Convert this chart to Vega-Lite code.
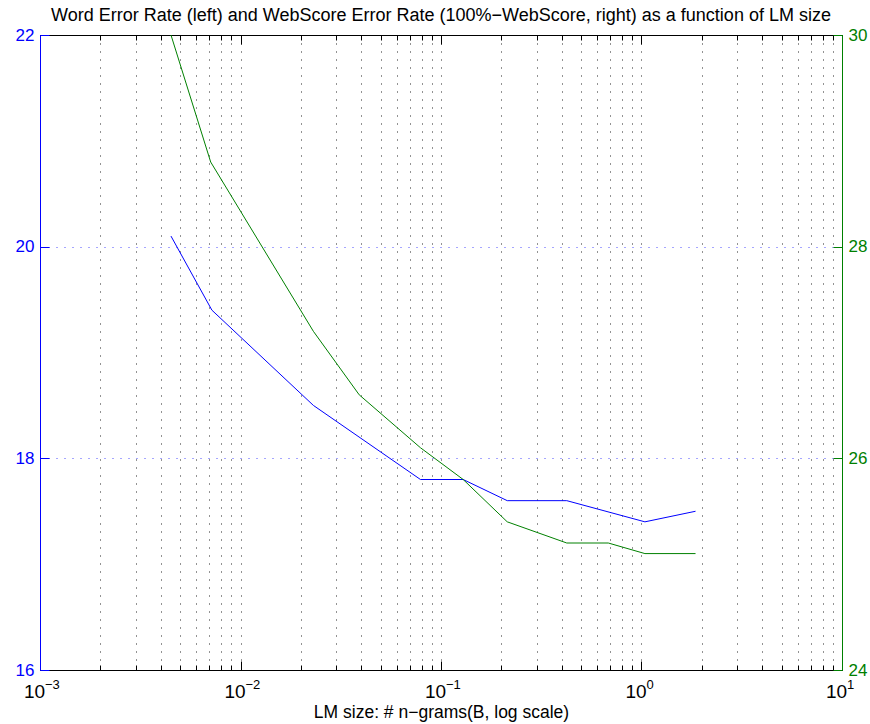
{
  "$schema": "https://vega.github.io/schema/vega-lite/v6.json",
  "width": 802,
  "height": 635,
  "autosize": {"type": "none"},
  "padding": {"left": 40, "top": 35, "right": 28, "bottom": 54},
  "background": "white",
  "title": {
    "text": "Word Error Rate (left) and WebScore Error Rate (100%−WebScore, right) as a function of LM size",
    "font": "Liberation Sans",
    "fontSize": 18,
    "fontWeight": "normal",
    "color": "black",
    "anchor": "middle",
    "offset": 1
  },
  "config": {
    "view": {"stroke": "black", "strokeWidth": 1},
    "axis": {"labelFont": "Liberation Sans", "titleFont": "Liberation Sans", "titleFontWeight": "normal"}
  },
  "datasets": {
    "wer": [
      {"size": 0.0045, "rate": 20.1},
      {"size": 0.0072, "rate": 19.4},
      {"size": 0.0231, "rate": 18.5},
      {"size": 0.079, "rate": 17.8},
      {"size": 0.129, "rate": 17.8},
      {"size": 0.214, "rate": 17.6},
      {"size": 0.424, "rate": 17.6},
      {"size": 1.04, "rate": 17.4},
      {"size": 1.86, "rate": 17.5}
    ],
    "web": [
      {"size": 0.0045, "rate": 30.0},
      {"size": 0.0071, "rate": 28.8},
      {"size": 0.0231, "rate": 27.2},
      {"size": 0.0391, "rate": 26.6},
      {"size": 0.079, "rate": 26.1},
      {"size": 0.129, "rate": 25.8},
      {"size": 0.214, "rate": 25.4},
      {"size": 0.424, "rate": 25.2},
      {"size": 0.683, "rate": 25.2},
      {"size": 1.04, "rate": 25.1},
      {"size": 1.86, "rate": 25.1}
    ],
    "expo": [
      {"size": 0.001, "e": "−3"},
      {"size": 0.01, "e": "−2"},
      {"size": 0.1, "e": "−1"},
      {"size": 1, "e": "0"},
      {"size": 10, "e": "1"}
    ]
  },
  "layer": [
    {
      "data": {"name": "wer"},
      "mark": {"type": "line", "color": "#0000ff", "strokeWidth": 1, "clip": true},
      "encoding": {
        "x": {
          "field": "size", "type": "quantitative",
          "scale": {"type": "log", "domain": [0.001, 10], "nice": false},
          "axis": {
            "orient": "bottom",
            "title": "LM size: # n−grams(B, log scale)",
            "titleFontSize": 17.5,
            "titleColor": "black",
            "titlePadding": -2,
            "values": [0.001,0.002,0.003,0.004,0.005,0.006,0.007,0.008,0.009,0.01,0.02,0.03,0.04,0.05,0.06,0.07,0.08,0.09,0.1,0.2,0.3,0.4,0.5,0.6,0.7,0.8,0.9,1,2,3,4,5,6,7,8,9,10],
            "labelExpr": "indexof([0.001,0.01,0.1,1,10], datum.value) >= 0 ? '10' : ''",
            "labelFontSize": 19,
            "labelColor": "black",
            "labelPadding": 21,
            "labelOffset": -6,
            "labelOverlap": false,
            "labelFlush": false,
            "domainColor": "black",
            "tickColor": "black",
            "tickSize": {"condition": {"test": "indexof([0.001,0.01,0.1,1,10], datum.value) >= 0", "value": -9}, "value": -5},
            "grid": true,
            "gridColor": "black",
            "gridDash": [1, 7],
            "gridOpacity": {"condition": {"test": "datum.value == 0.001 || datum.value == 10", "value": 0}, "value": 0.85}
          }
        },
        "y": {
          "field": "rate", "type": "quantitative",
          "scale": {"domain": [16, 22], "nice": false, "zero": false},
          "axis": {
            "orient": "left",
            "title": null,
            "values": [16, 18, 20, 22],
            "labelFontSize": 17,
            "labelColor": "#0000ff",
            "labelPadding": 15,
            "labelFlush": false,
            "domainColor": "#0000ff",
            "tickColor": "#0000ff",
            "tickSize": -9,
            "grid": true,
            "gridColor": "#0000ff",
            "gridDash": [1, 7],
            "gridOpacity": {"condition": {"test": "datum.value == 18 || datum.value == 20", "value": 0.7}, "value": 0}
          }
        }
      }
    },
    {
      "data": {"name": "web"},
      "mark": {"type": "line", "color": "#008000", "strokeWidth": 1, "clip": true},
      "encoding": {
        "x": {
          "field": "size", "type": "quantitative",
          "scale": {"type": "log", "domain": [0.001, 10], "nice": false},
          "axis": {
            "orient": "top",
            "title": null,
            "labels": false,
            "values": [0.001,0.002,0.003,0.004,0.005,0.006,0.007,0.008,0.009,0.01,0.02,0.03,0.04,0.05,0.06,0.07,0.08,0.09,0.1,0.2,0.3,0.4,0.5,0.6,0.7,0.8,0.9,1,2,3,4,5,6,7,8,9,10],
            "domainColor": "black",
            "tickColor": "black",
            "tickSize": {"condition": {"test": "indexof([0.001,0.01,0.1,1,10], datum.value) >= 0", "value": -9}, "value": -5},
            "grid": false
          }
        },
        "y": {
          "field": "rate", "type": "quantitative",
          "scale": {"domain": [24, 30], "nice": false, "zero": false},
          "axis": {
            "orient": "right",
            "title": null,
            "values": [24, 26, 28, 30],
            "labelFontSize": 17,
            "labelColor": "#008000",
            "labelPadding": 15,
            "labelFlush": false,
            "domainColor": "#008000",
            "tickColor": "#008000",
            "tickSize": -9,
            "grid": false
          }
        }
      }
    },
    {
      "data": {"name": "expo"},
      "mark": {"type": "text", "font": "Liberation Sans", "fontSize": 13, "color": "black", "align": "left", "baseline": "top", "dx": 5, "dy": 9, "clip": false},
      "encoding": {
        "x": {
          "field": "size", "type": "quantitative",
          "scale": {"type": "log", "domain": [0.001, 10], "nice": false},
          "axis": null
        },
        "y": {
          "datum": 16, "type": "quantitative",
          "scale": {"domain": [16, 22], "nice": false, "zero": false},
          "axis": null
        },
        "text": {"field": "e"}
      }
    }
  ],
  "resolve": {"scale": {"y": "independent"}, "axis": {"x": "independent", "y": "independent"}}
}
